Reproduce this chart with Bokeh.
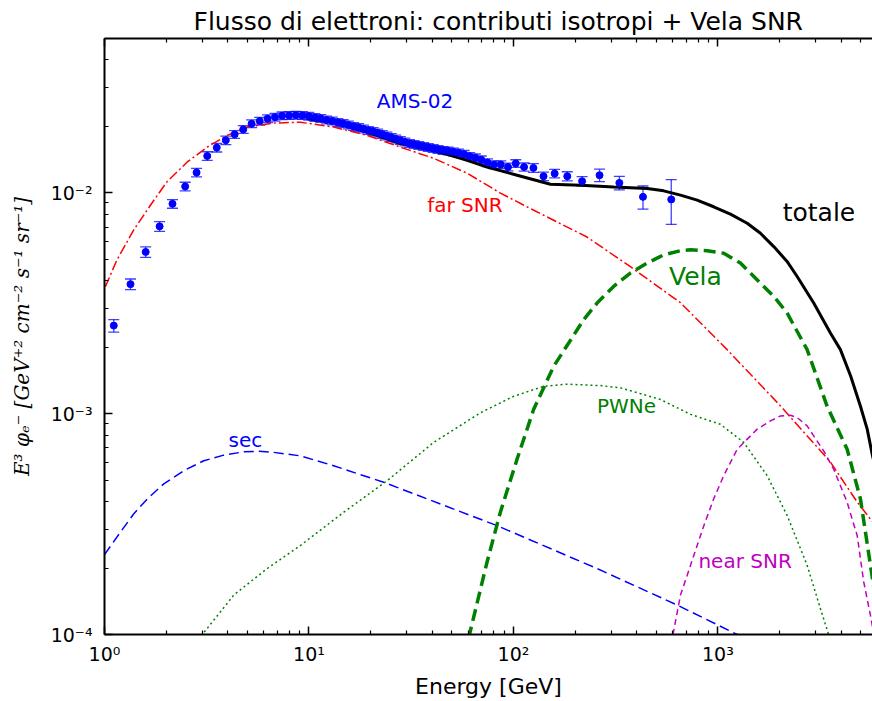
from bokeh.plotting import figure
from bokeh.models import (ColumnDataSource, Whisker, TeeHead, Label, LogAxis,
                          FixedTicker, CustomJSTickFormatter, Range1d)
from bokeh.embed import file_html
from bokeh.resources import INLINE

# ---------------- data ----------------
ams_E = [1.11, 1.34, 1.59, 1.86, 2.15, 2.48, 2.82, 3.18, 3.54, 3.92, 4.33, 4.77, 5.24, 5.74,
         6.27, 6.82, 7.39, 7.99, 8.62, 9.28, 9.97, 10.68, 11.42, 12.19, 13.0, 13.83, 14.69,
         15.59, 16.52, 17.49, 18.48, 19.51, 20.58, 21.68, 22.83, 24.02, 25.26, 26.57, 27.96,
         29.43, 31.0, 32.66, 34.43, 36.32, 38.34, 40.49, 42.79, 45.27, 47.93, 50.8, 53.93,
         57.33, 61.05, 65.13, 69.64, 74.66, 80.3, 86.7, 94.05, 102.6, 112.7, 125.2, 140.3,
         159.0, 183.3, 216.6, 263.7, 329.5, 430.0, 591.0]
ams_flux = [2.505e-3, 3.86e-3, 5.40e-3, 7.05e-3, 8.92e-3, 1.069e-2, 1.236e-2, 1.469e-2,
            1.603e-2, 1.730e-2, 1.840e-2, 1.938e-2, 2.056e-2, 2.113e-2, 2.167e-2, 2.202e-2,
            2.234e-2, 2.240e-2, 2.248e-2, 2.240e-2, 2.223e-2, 2.194e-2, 2.172e-2, 2.138e-2,
            2.116e-2, 2.084e-2, 2.061e-2, 2.031e-2, 2.000e-2, 1.977e-2, 1.948e-2, 1.918e-2,
            1.898e-2, 1.869e-2, 1.840e-2, 1.811e-2, 1.783e-2, 1.755e-2, 1.728e-2, 1.701e-2,
            1.675e-2, 1.658e-2, 1.641e-2, 1.624e-2, 1.607e-2, 1.590e-2, 1.574e-2, 1.558e-2,
            1.549e-2, 1.533e-2, 1.517e-2, 1.495e-2, 1.464e-2, 1.442e-2, 1.412e-2, 1.371e-2,
            1.343e-2, 1.343e-2, 1.310e-2, 1.358e-2, 1.310e-2, 1.297e-2, 1.189e-2, 1.223e-2,
            1.189e-2, 1.129e-2, 1.202e-2, 1.109e-2, 9.59e-3, 9.34e-3]
ams_err_rel = [0.065, 0.055, 0.055, 0.05, 0.045, 0.045, 0.045, 0.045, 0.045, 0.045, 0.04,
               0.04, 0.04, 0.04, 0.04, 0.04, 0.04, 0.04, 0.04, 0.04, 0.04, 0.04, 0.04, 0.04,
               0.04, 0.04, 0.04, 0.04, 0.04, 0.04, 0.04, 0.04, 0.04, 0.04, 0.04, 0.04, 0.04,
               0.04, 0.04, 0.04, 0.04, 0.04, 0.04, 0.04, 0.04, 0.04, 0.04, 0.04, 0.04, 0.04,
               0.04, 0.04, 0.04, 0.04, 0.04, 0.04, 0.04, 0.04, 0.04, 0.04, 0.042, 0.045,
               0.045, 0.045, 0.048, 0.05, 0.065, 0.07, 0.12, 0.23]

far_E = [1.01, 1.15, 1.39, 1.68, 2.02, 2.54, 3.18, 3.98, 4.99, 6.73, 9.08, 13.2, 19.3, 28.0,
         40.6, 59.4, 86.3, 125.0, 229.0, 373.0, 656.0, 1109.0, 2023.0, 3548.0, 4797.0, 5702.0,
         6026.0]
far_flux = [3.76e-3, 4.97e-3, 6.79e-3, 8.81e-3, 1.122e-2, 1.380e-2, 1.611e-2, 1.820e-2,
            1.986e-2, 2.070e-2, 2.089e-2, 1.986e-2, 1.820e-2, 1.611e-2, 1.435e-2, 1.227e-2,
            9.98e-3, 8.36e-3, 6.31e-3, 4.63e-3, 3.18e-3, 1.95e-3, 1.084e-3, 6.04e-4, 3.98e-4,
            3.24e-4, 2.95e-4]

sec_E = [1.0, 1.197, 1.391, 1.618, 1.95, 2.443, 3.06, 3.83, 4.80, 5.7, 6.73, 9.08, 13.2,
         23.2, 83.2, 256.0, 631.0, 1242.0, 2500.0]
sec_flux = [2.30e-4, 2.91e-4, 3.52e-4, 4.11e-4, 4.81e-4, 5.52e-4, 6.12e-4, 6.49e-4, 6.72e-4,
            6.76e-4, 6.68e-4, 6.44e-4, 5.81e-4, 4.89e-4, 3.11e-4, 1.99e-4, 1.36e-4, 1.0e-4,
            7.2e-5]

pwn_E = [2.8, 3.01, 4.29, 6.25, 9.08, 14.8, 24.1, 40.7, 69.0, 100.5, 140.6, 183.0, 266.0,
         333.0, 523.0, 734.0, 1028.0, 1337.0, 1740.0, 2180.0, 2730.0, 3170.0, 3480.0, 3758.0]
pwn_flux = [9.0e-5, 1.0e-4, 1.51e-4, 1.99e-4, 2.53e-4, 3.58e-4, 4.97e-4, 7.41e-4, 1.01e-3,
            1.20e-3, 1.33e-3, 1.36e-3, 1.34e-3, 1.31e-3, 1.16e-3, 9.93e-4, 8.95e-4, 7.41e-4,
            5.24e-4, 3.46e-4, 2.06e-4, 1.31e-4, 1.0e-4, 6.3e-5]

vela_E = [60.3, 74.3, 86.3, 104.2, 125.6, 157.4, 220.8, 256.5, 309.0, 373.0, 451.0, 543.0,
          656.0, 734.0, 886.0, 1067.0, 1288.0, 1614.0, 1875.0, 2178.0, 2730.0, 3420.0,
          4285.0, 4977.0, 5570.0, 6095.0]
vela_flux = [9.6e-5, 2.13e-4, 3.58e-4, 6.23e-4, 1.047e-3, 1.64e-3, 2.67e-3, 3.17e-3, 3.77e-3,
             4.33e-3, 4.81e-3, 5.24e-3, 5.47e-3, 5.52e-3, 5.47e-3, 5.33e-3, 4.81e-3, 3.90e-3,
             3.40e-3, 2.86e-3, 1.95e-3, 1.08e-3, 6.90e-4, 4.11e-4, 2.06e-4, 1.18e-4]

near_E = [590.0, 656.0, 707.0, 762.0, 853.0, 953.0, 1067.0, 1242.0, 1556.0, 1807.0, 2023.0,
          2265.0, 2440.0, 2730.0, 2940.0, 3289.0, 3680.0, 3972.0, 4285.0, 4529.0, 4797.0,
          4977.0, 5164.0, 5570.0, 5957.0]
near_flux = [9.0e-5, 1.51e-4, 1.85e-4, 2.28e-4, 3.11e-4, 4.11e-4, 5.24e-4, 6.90e-4, 8.51e-4,
             9.27e-4, 9.77e-4, 9.84e-4, 9.60e-4, 8.81e-4, 7.93e-4, 6.79e-4, 5.61e-4, 4.72e-4,
             3.97e-4, 3.34e-4, 2.81e-4, 2.20e-4, 1.73e-4, 1.22e-4, 8.65e-5]

tot_E = [9.86, 13.2, 19.3, 28.0, 40.7, 59.4, 74.3, 104.2, 151.7, 212.8, 309.0, 451.0, 543.0,
         656.0, 791.0, 953.0, 1151.0, 1390.0, 1614.0, 1875.0, 2178.0, 2440.0, 2940.0, 3548.0,
         3972.0, 4456.0, 4977.0, 5370.0, 5702.0, 6100.0]
tot_flux = [2.168e-2, 2.089e-2, 1.884e-2, 1.671e-2, 1.560e-2, 1.403e-2, 1.309e-2, 1.202e-2,
            1.094e-2, 1.083e-2, 1.064e-2, 1.047e-2, 1.021e-2, 9.77e-3, 9.27e-3, 8.65e-3,
            8.01e-3, 7.28e-3, 6.56e-3, 5.71e-3, 4.89e-3, 4.18e-3, 3.17e-3, 2.32e-3, 1.95e-3,
            1.48e-3, 1.08e-3, 8.51e-4, 6.44e-4, 5.0e-4]

x_major = [1, 10, 100, 1000, 10000]
y_major = [1e-4, 1e-3, 1e-2, 1e-1]

# ---------------- figure ----------------
p = figure(width=872, height=701, x_axis_type="log", y_axis_type="log",
           x_range=Range1d(1.0, 5700.0), y_range=Range1d(1e-4, 5e-2),
           output_backend="svg", toolbar_location=None,
           min_border_left=104, min_border_right=0, min_border_top=38, min_border_bottom=65,
           background_fill_color="white", border_fill_color="white")
p.outline_line_color = None
p.xgrid.visible = False
p.ygrid.visible = False

p.title.text = "Flusso di elettroni: contributi isotropi + Vela SNR"
p.title.align = "left"
p.title.offset = 89
p.title.text_font = "DejaVu Sans"
p.title.text_font_style = "normal"
p.title.text_font_size = "25px"
p.title.text_color = "black"
p.title.standoff = 6

sup_js = """
const e = Math.round(Math.log10(tick));
const m = {"-": "\\u207b", "0": "\\u2070", "1": "\\u00b9", "2": "\\u00b2", "3": "\\u00b3",
           "4": "\\u2074", "5": "\\u2075", "6": "\\u2076", "7": "\\u2077", "8": "\\u2078", "9": "\\u2079"};
return "10" + String(e).split("").map(c => m[c]).join("");
"""

xt = FixedTicker(ticks=x_major, minor_ticks=[k * 10 ** d for d in range(0, 4) for k in range(2, 10)])
yt = FixedTicker(ticks=y_major, minor_ticks=[k * 10.0 ** d for d in (-4, -3, -2) for k in range(2, 10)])


def style_axis(ax, ticker):
    ax.ticker = ticker
    ax.formatter = CustomJSTickFormatter(code=sup_js)
    ax.axis_line_width = 2
    ax.axis_line_color = "black"
    ax.major_tick_in = 8
    ax.major_tick_out = 0
    ax.minor_tick_in = 4
    ax.minor_tick_out = 0
    ax.major_tick_line_width = 1.5
    ax.minor_tick_line_width = 1.2
    ax.major_tick_line_color = "black"
    ax.minor_tick_line_color = "black"
    ax.major_label_text_font = "DejaVu Sans"
    ax.major_label_text_font_size = "19px"
    ax.major_label_text_color = "black"


xa = p.xaxis[0]
style_axis(xa, xt)
xa.major_label_standoff = 8
xa.axis_label = "Energy [GeV]"
xa.axis_label_text_font = "DejaVu Sans"
xa.axis_label_text_font_style = "normal"
xa.axis_label_text_font_size = "22px"
xa.axis_label_text_color = "black"
xa.axis_label_standoff = 6

ya = p.yaxis[0]
style_axis(ya, yt)
ya.major_label_standoff = 12
ya.axis_label = "E\u00b3 \u03c6\u2091\u207b [GeV\u207a\u00b2 cm\u207b\u00b2 s\u207b\u00b9 sr\u207b\u00b9]"
ya.axis_label_text_font = "DejaVu Serif"
ya.axis_label_text_font_style = "italic"
ya.axis_label_text_font_size = "20px"
ya.axis_label_text_color = "black"
ya.axis_label_standoff = 14

top = LogAxis()
style_axis(top, xt)
top.formatter = CustomJSTickFormatter(code='return "";')
top.major_label_text_font_size = "0px"
top.major_label_standoff = 0
p.add_layout(top, "above")

# ---------------- curves ----------------
p.line(far_E, far_flux, line_color="#ff0000", line_width=1.5, line_dash="10 3 2 3")
p.line(sec_E, sec_flux, line_color="#0000ff", line_width=1.5, line_dash="10 5")
p.line(pwn_E, pwn_flux, line_color="#008000", line_width=1.5, line_dash="2 3")
p.line(vela_E, vela_flux, line_color="#008000", line_width=3.5, line_dash="12 6")
p.line(near_E, near_flux, line_color="#bf00bf", line_width=1.5, line_dash="6 4")
p.line(tot_E, tot_flux, line_color="black", line_width=3)

# ---------------- AMS-02 data ----------------
src = ColumnDataSource(dict(
    x=ams_E, y=ams_flux,
    lo=[f * (1 - r) for f, r in zip(ams_flux, ams_err_rel)],
    hi=[f * (1 + r) for f, r in zip(ams_flux, ams_err_rel)],
))
wh = Whisker(base="x", lower="lo", upper="hi", source=src,
             line_color="#0000ff", line_width=1.3, line_alpha=0.75,
             upper_head=TeeHead(size=11, line_color="#0000ff", line_width=1.3, line_alpha=0.75),
             lower_head=TeeHead(size=11, line_color="#0000ff", line_width=1.3, line_alpha=0.75))
p.add_layout(wh)
p.scatter("x", "y", source=src, size=7, color="#0000ff")

# ---------------- labels ----------------
def lab(x, y, t, color, size):
    p.add_layout(Label(x=x, y=y, text=t, text_color=color, text_font="DejaVu Sans",
                       text_font_size=size, text_align="center", text_baseline="alphabetic",
                       y_offset=8))

lab(33.0, 0.02404, "AMS-02", "#0000ff", "20px")
lab(57.9, 8.08e-3, "far SNR", "#ff0000", "20px")
lab(3119.0, 7.53e-3, "totale", "black", "25px")
lab(776.0, 3.84e-3, "Vela", "#008000", "25px")
lab(357.0, 1.0e-3, "PWNe", "#008000", "20px")
lab(1358.0, 1.99e-4, "near SNR", "#bf00bf", "20px")
lab(4.89, 6.97e-4, "sec", "#0000ff", "20px")

open("out.html", "w").write(file_html(p, INLINE))
